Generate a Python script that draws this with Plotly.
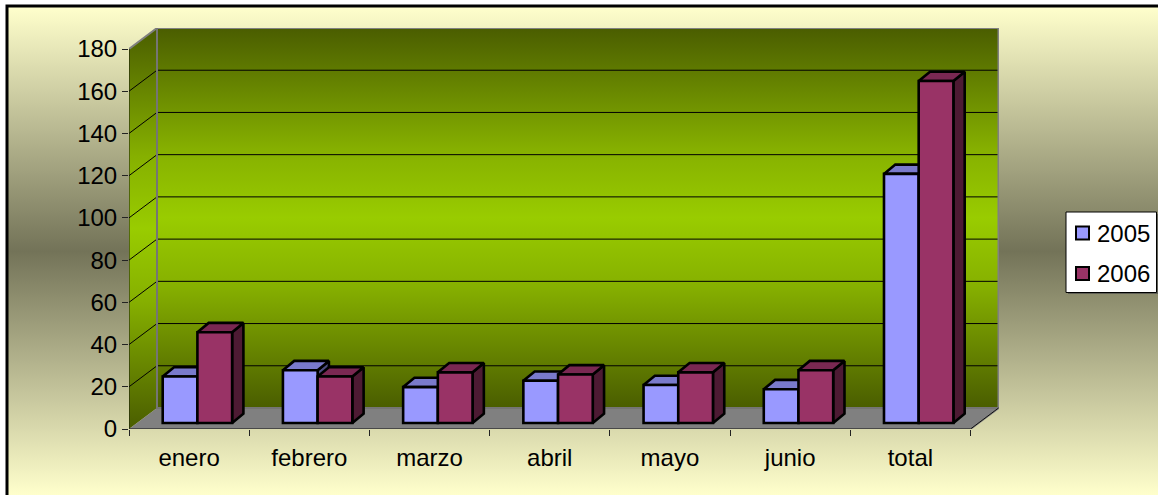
import plotly.graph_objects as go

categories = ["enero", "febrero", "marzo", "abril", "mayo", "junio", "total"]
series_names = ["2005", "2006"]
values_2005 = [22, 25, 17, 20, 18, 16, 118]
values_2006 = [43, 22, 24, 23, 24, 25, 162]
front_colors = ["#9999ff", "#993366"]
top_colors = ["#7a7acc", "#7a2852"]
side_colors = ["#4d4d80", "#4d1a33"]

W, H = 1158, 495
X0, X1, XB = 129, 970.5, 999
Y0, Y180, YT = 429, 49, 28
ppx = (X1 - X0) / 7
ppy = (Y0 - Y180) / 180
YMAX = 180
wall_dx = 28 / ppx
wall_dy = 21 / ppy
bar_dx = 8.3 / ppx
bar_dy = 6 / ppy
bar_w = 34.7 / ppx
face_dx = 11.3 / ppx
face_dy = 9.3 / ppy
xl, xr = -0.5, 6.5
idx = list(range(len(categories)))
FONT = "Liberation Sans, Arial, sans-serif"
EDGE = 2.6

fig = go.Figure()

# page background in pixel space
cream, mid = "#ffffcc", "#737358"
fig.add_trace(go.Scatter(
    x=[8, W, W, 8, 8], y=[7, 7, H, H, 7], mode="none", fill="toself",
    fillgradient=dict(type="vertical", start=7, stop=H,
                      colorscale=[[0, cream], [0.5, mid], [1, cream]]),
    showlegend=False, hoverinfo="skip", xaxis="x", yaxis="y"))
fig.add_trace(go.Scatter(
    x=[7, 7, W], y=[H, 6, 6], mode="lines", line=dict(color="#000000", width=3),
    showlegend=False, hoverinfo="skip", xaxis="x", yaxis="y"))

# legend panel
fig.add_trace(go.Scatter(
    x=[1068, 1158, 1158, 1068, 1068], y=[214, 214, 294, 294, 214], mode="none",
    fill="toself", fillcolor="#5f5f55", showlegend=False, hoverinfo="skip",
    xaxis="x", yaxis="y"))
fig.add_trace(go.Scatter(
    x=[1066, 1156.5, 1156.5, 1066, 1066], y=[212, 212, 292.5, 292.5, 212],
    mode="lines", fill="toself", fillcolor="#ffffff",
    line=dict(color="#000000", width=1), showlegend=False, hoverinfo="skip",
    xaxis="x", yaxis="y"))
for s, name in enumerate(series_names):
    fig.add_trace(go.Scatter(
        x=[1082.5], y=[233 + 40.5 * s], mode="markers",
        marker=dict(symbol="square", size=13, color=front_colors[s],
                    line=dict(color="#000000", width=2)),
        showlegend=False, hoverinfo="skip", xaxis="x", yaxis="y"))


def wall(xs, ys, **kw):
    fig.add_trace(go.Scatter(x=xs, y=ys, showlegend=False, hoverinfo="skip",
                             xaxis="x2", yaxis="y2", **kw))


dark, shoulder, bright = "#4a5d00", "#86b000", "#99cc00"
scale = [[0, dark], [0.32, shoulder], [0.5, bright], [0.68, shoulder], [1, dark]]
# left wall
wall([xl, xl + wall_dx, xl + wall_dx, xl, xl],
     [0, wall_dy, YMAX + wall_dy, YMAX, 0], mode="none", fill="toself",
     fillgradient=dict(type="vertical", start=0, stop=YMAX + wall_dy, colorscale=scale))
# back wall
wall([xl + wall_dx, xr + wall_dx, xr + wall_dx, xl + wall_dx, xl + wall_dx],
     [wall_dy, wall_dy, YMAX + wall_dy, YMAX + wall_dy, wall_dy], mode="none",
     fill="toself",
     fillgradient=dict(type="vertical", start=wall_dy, stop=YMAX + wall_dy, colorscale=scale))
# floor
wall([xl, xr, xr + wall_dx, xl + wall_dx, xl], [0, 0, wall_dy, wall_dy, 0],
     mode="none", fill="toself", fillcolor="#808080")
# gridlines
gx, gy = [], []
for v in range(20, YMAX, 20):
    gx += [xl, xl + wall_dx, xr + wall_dx, None]
    gy += [v, v + wall_dy, v + wall_dy, None]
wall(gx, gy, mode="lines", line=dict(color="#000000", width=1))
# wall edges
wall([xl, xl + wall_dx, xr + wall_dx, xr + wall_dx, xr],
     [YMAX, YMAX + wall_dy, YMAX + wall_dy, wall_dy, 0],
     mode="lines", line=dict(color="#808080", width=2), cliponaxis=False)
wall([xl + wall_dx, xl + wall_dx, xr + wall_dx],
     [YMAX + wall_dy, wall_dy, wall_dy],
     mode="lines", line=dict(color="#757575", width=2), cliponaxis=False)
# axis lines
wall([xl, xl, xr, xr + wall_dx], [YMAX, 0, 0, wall_dy], mode="lines",
     line=dict(color="#111111", width=1), cliponaxis=False)

# depth faces of the bars
for s, vals in enumerate([values_2005, values_2006]):
    sx, sy, tx, ty = [], [], [], []
    for i, v in zip(idx, vals):
        left = i + bar_dx + (s - 1) * bar_w
        right = left + bar_w
        top = v + bar_dy
        tx += [left, left + face_dx, right + face_dx, right, left, None]
        ty += [top, top + face_dy, top + face_dy, top, top, None]
        sx += [right, right + face_dx, right + face_dx, right, right, None]
        sy += [bar_dy, bar_dy + face_dy, top + face_dy, top, bar_dy, None]
    line = dict(color="#000000", width=EDGE)
    wall(sx, sy, mode="lines", fill="toself", fillcolor=side_colors[s], line=line)
    wall(tx, ty, mode="lines", fill="toself", fillcolor=top_colors[s], line=line)

# front faces
for s, vals in enumerate([values_2005, values_2006]):
    fig.add_trace(go.Bar(
        x=[i + bar_dx for i in idx], y=vals, base=bar_dy, name=series_names[s],
        showlegend=False,
        marker=dict(color=front_colors[s], line=dict(color="#000000", width=EDGE)),
        xaxis="x3", yaxis="y3", hoverinfo="skip"))

xrange_ = [xl, xl + (XB - X0) / ppx]
yrange_ = [0, (Y0 - YT) / ppy]
xdom = [X0 / W, XB / W]
ydom = [(H - Y0) / H, (H - YT) / H]
hidden = dict(visible=False, fixedrange=True, automargin=False)
tick_font = dict(family=FONT, size=24, color="#000000")

annotations = [
    dict(x=1095, y=233 + 40.5 * s, xref="x", yref="y", text=name, showarrow=False,
         xanchor="left", yanchor="middle", font=dict(family=FONT, size=24, color="#000000"))
    for s, name in enumerate(series_names)
]

fig.update_layout(
    width=W, height=H, margin=dict(l=0, r=0, t=0, b=0, pad=0), autosize=False,
    showlegend=False,
    paper_bgcolor="#ffffff", plot_bgcolor="rgba(0,0,0,0)",
    barmode="group", bargap=1 - 2 * bar_w, bargroupgap=0,
    font=dict(family=FONT, color="#000000"),
    annotations=annotations,
    xaxis=dict(domain=[0, 1], range=[0, W], **hidden),
    yaxis=dict(domain=[0, 1], range=[H, 0], **hidden),
    xaxis2=dict(domain=xdom, range=xrange_, anchor="y2", showgrid=False, zeroline=False,
                showline=False, tickmode="array", tickvals=idx, ticktext=categories,
                ticks="", tickfont=tick_font, ticklabelstandoff=12, automargin=False,
                minor=dict(tickmode="array", tickvals=[i - 0.5 for i in range(8)],
                           ticks="outside", ticklen=6, tickwidth=1, tickcolor="#222222",
                           showgrid=False),
                fixedrange=True),
    yaxis2=dict(domain=ydom, range=yrange_, anchor="x2", showgrid=False, zeroline=False,
                showline=False, tickmode="linear", tick0=0, dtick=20, automargin=False,
                ticks="outside", ticklen=6, tickwidth=1, tickcolor="#222222",
                tickfont=tick_font, fixedrange=True),
    xaxis3=dict(overlaying="x2", domain=xdom, range=xrange_, anchor="y3", **hidden),
    yaxis3=dict(overlaying="y2", domain=ydom, range=yrange_, anchor="x3", **hidden),
)

post = ("document.documentElement.style.margin='0';"
        "document.body.style.margin='0';document.body.style.overflow='hidden';")
fig.write_html("out.html", post_script=post,
               config={"displayModeBar": False, "responsive": False})
